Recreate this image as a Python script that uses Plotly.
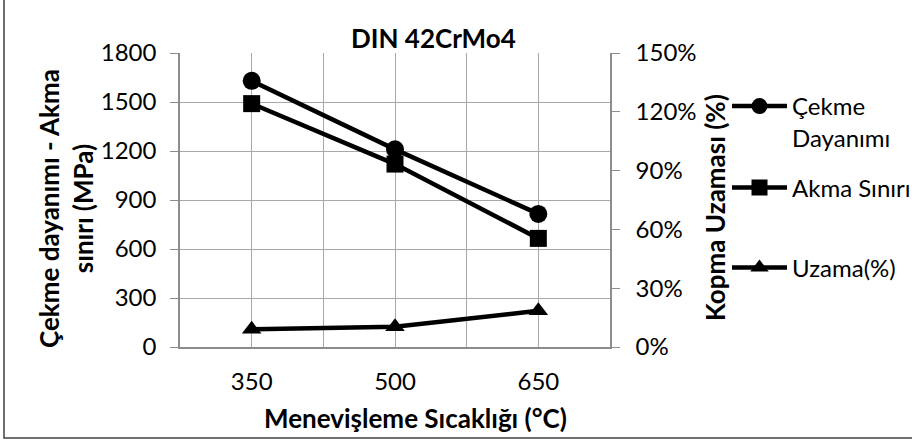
import plotly.graph_objects as go

# ---- data ----
temps = [350, 500, 650]
cekme = [1630, 1210, 815]          # Çekme Dayanımı (MPa)
akma = [1490, 1120, 665]           # Akma Sınırı (MPa)
uzama = [0.090, 0.103, 0.185]      # Uzama (fraction)

title_text = "DIN 42CrMo4"
x_title = "Menevişleme Sıcaklığı (°C)"
y_title = "Çekme dayanımı - Akma<br>sınırı (MPa)"
y2_title = "Kopma Uzaması (%)"
names = ["Çekme<br>Dayanımı", "Akma Sınırı", "Uzama(%)"]

# ---- layout geometry (pixels) ----
W, H = 912, 441
L, R, T, B = 180, 610, 53, 347
def px(x):
    return (x - L) / (R - L)
def py(y):
    return (B - y) / (B - T)

FONT = "Lato, 'Open Sans', sans-serif"
GRID = "#a8a8a8"
AXIS = "#8c8c8c"
TICK = 24
TTL = 26

fig = go.Figure()
fig.add_trace(go.Scatter(x=temps, y=cekme, name=names[0], mode="lines+markers",
                         line=dict(color="black", width=4.5),
                         marker=dict(symbol="circle", size=18, color="black"),
                         legend="legend"))
fig.add_trace(go.Scatter(x=temps, y=akma, name=names[1], mode="lines+markers",
                         line=dict(color="black", width=4.5),
                         marker=dict(symbol="square", size=17, color="black"),
                         legend="legend2"))
fig.add_trace(go.Scatter(x=temps, y=uzama, name=names[2], mode="lines+markers",
                         line=dict(color="black", width=4.5),
                         marker=dict(symbol="triangle-up", size=17, color="black"),
                         yaxis="y2", legend="legend3"))

LX = 727
leg_common = dict(bgcolor="rgba(0,0,0,0)", font=dict(family=FONT, size=24, color="black"),
                  xanchor="left", itemwidth=55, valign="top")

fig.update_layout(
    width=W, height=H,
    margin=dict(l=L, r=W - R, t=T, b=H - B, pad=0, autoexpand=False),
    paper_bgcolor="white", plot_bgcolor="white",
    font=dict(family=FONT, size=TICK, color="black"),
    xaxis=dict(range=[275, 725], tickvals=temps, showgrid=True, gridcolor=GRID, gridwidth=1,
               minor=dict(dtick=75, tick0=275, showgrid=True, gridcolor=GRID, gridwidth=1),
               showline=True, linecolor=AXIS, linewidth=1.5, ticks="", zeroline=False,
               tickfont=dict(size=TICK), ticklabelstandoff=12, automargin=False),
    yaxis=dict(range=[0, 1800], dtick=300, showgrid=True, gridcolor=GRID, gridwidth=1,
               showline=True, linecolor=AXIS, linewidth=1.5, ticks="outside", ticklen=8,
               tickcolor=AXIS, zeroline=False, tickfont=dict(size=TICK), ticklabelstandoff=9,
               automargin=False),
    yaxis2=dict(range=[0, 1.5], dtick=0.3, tickformat=".0%", overlaying="y", side="right",
                showgrid=False, showline=True, linecolor=AXIS, linewidth=1.5, ticks="outside",
                ticklen=8, tickcolor=AXIS, zeroline=False, tickfont=dict(size=TICK),
                ticklabelstandoff=11, automargin=False),
    legend=dict(x=px(LX), y=py(84), yanchor="top", **leg_common),
    legend2=dict(x=px(LX), y=py(188), yanchor="middle", **leg_common),
    legend3=dict(x=px(LX), y=py(268), yanchor="middle", **leg_common),
    showlegend=True,
)

anns = [
    dict(text="<b>%s</b>" % title_text, x=px(433), y=py(38), font=dict(size=26)),
    dict(text="<b>%s</b>" % x_title, x=px(415), y=py(418), font=dict(size=TTL)),
    dict(text="<b>%s</b>" % y_title, x=px(66), y=py(209), textangle=-90, font=dict(size=TTL)),
    dict(text="<b>%s</b>" % y2_title, x=px(715), y=py(208), textangle=-90, font=dict(size=TTL)),
]
for a in anns:
    fig.add_annotation(xref="paper", yref="paper", showarrow=False, xanchor="center",
                       yanchor="middle", **a)

# outer chart border
fig.add_shape(type="rect", xref="paper", yref="paper", x0=px(4), x1=px(925), y0=py(438),
              y1=py(-5), line=dict(color="#404040", width=1.5), layer="below")

fig.write_html("out.html")
